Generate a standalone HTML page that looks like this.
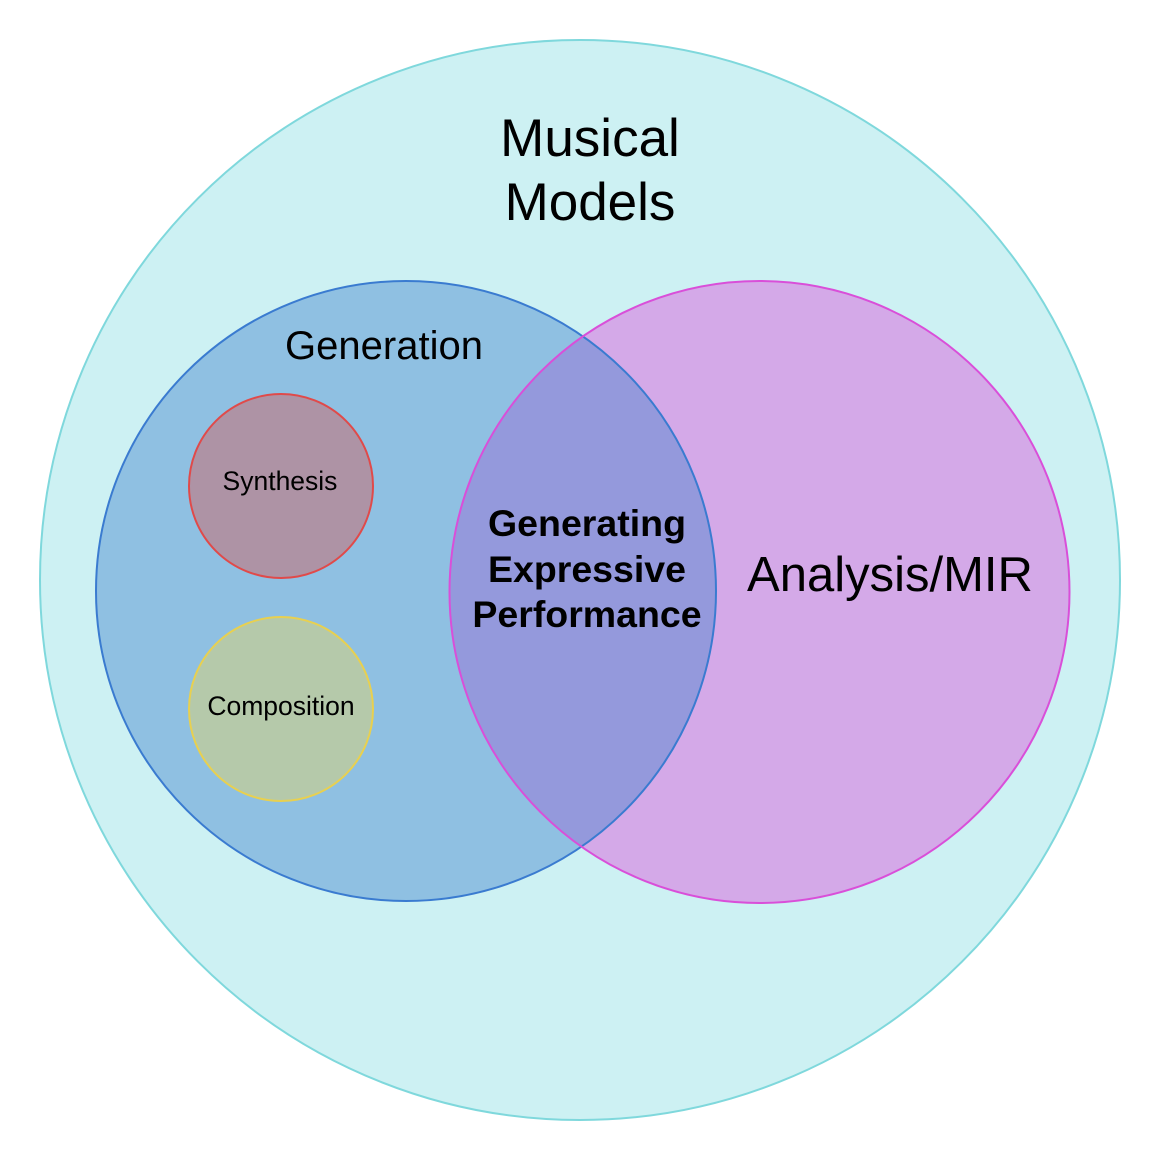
<!DOCTYPE html>
<html><head><meta charset="utf-8"><style>html,body{margin:0;padding:0;background:#fff}svg{display:block}text{font-family:"Liberation Sans",sans-serif;fill:#000}</style></head>
<body>
<svg width="1160" height="1160" viewBox="0 0 1160 1160">
<defs>
<clipPath id="clipGen"><ellipse cx="406" cy="591" rx="310" ry="310"/></clipPath>
</defs>
<circle cx="580" cy="580" r="540" fill="#cdf1f3" stroke="#7fd8dc" stroke-width="2"/>
<ellipse cx="406" cy="591" rx="310" ry="310" fill="#8fc0e2"/>
<ellipse cx="759.5" cy="592" rx="310" ry="311" fill="#d4a9e8"/>
<ellipse cx="759.5" cy="592" rx="310" ry="311" fill="#9499dc" clip-path="url(#clipGen)"/>
<ellipse cx="406" cy="591" rx="310" ry="310" fill="none" stroke="#3a7bd0" stroke-width="2"/>
<ellipse cx="759.5" cy="592" rx="310" ry="311" fill="none" stroke="#d94fd9" stroke-width="2"/>
<circle cx="281" cy="486" r="92" fill="#ae93a5" stroke="#e04a4a" stroke-width="2"/>
<circle cx="281" cy="709" r="92" fill="#b5c9aa" stroke="#e8d050" stroke-width="2"/>
<text x="590" y="156" font-size="53" text-anchor="middle">Musical</text>
<text x="590" y="220" font-size="53" text-anchor="middle">Models</text>
<text x="384" y="359" font-size="40" text-anchor="middle">Generation</text>
<text x="890" y="591" font-size="49" text-anchor="middle">Analysis/MIR</text>
<text x="587" y="536" font-size="37.5" font-weight="bold" text-anchor="middle">Generating</text>
<text x="587" y="582" font-size="37.5" font-weight="bold" text-anchor="middle">Expressive</text>
<text x="587" y="627" font-size="37.5" font-weight="bold" text-anchor="middle">Performance</text>
<text x="280" y="490" font-size="26.5" text-anchor="middle">Synthesis</text>
<text x="281" y="715" font-size="26.5" text-anchor="middle">Composition</text>
</svg>
</body></html>
